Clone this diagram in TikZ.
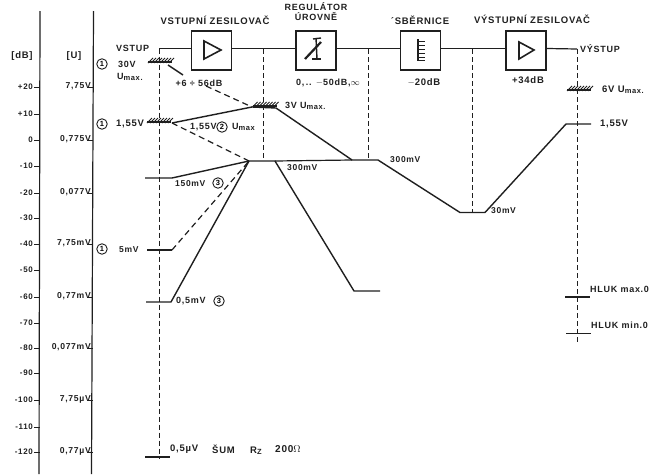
\documentclass[tikz,border=0pt]{standalone}
\usepackage{fontspec}
\setmainfont[LetterSpace=8]{Liberation Sans}
\newcommand{\fsA}{\fontsize{9.5}{10.5}\selectfont\bfseries}
\newcommand{\fsB}{\fontsize{9}{10}\selectfont\bfseries}
\newcommand{\fsC}{\fontsize{8.5}{9.5}\selectfont\bfseries}
\newcommand{\fsD}{\fontsize{8}{9}\selectfont\bfseries}
\newcommand{\sbs}[1]{\raisebox{-1pt}{\fontsize{7.5}{8}\selectfont\bfseries #1}}
\begin{document}
\begin{tikzpicture}[x=1pt,y=-1pt,
  lab/.style={font=\fsA,text=black!88,inner sep=0pt},
  labl/.style={lab,anchor=west},
  labr/.style={lab,anchor=east},
  axisln/.style={line width=1.2pt,black!88},
  tick/.style={line width=.9pt,black!88},
  block/.style={draw=black!88,line width=1.6pt,minimum width=40pt,minimum height=39pt,inner sep=0pt},
  wire/.style={line width=1.2pt,black!88},
  level/.style={line width=1.4pt,black!88},
  dline/.style={line width=1pt,black!88,dash pattern=on 5pt off 3pt},
  ddiag/.style={line width=1.2pt,black!88,dash pattern=on 6pt off 4pt},
  icon/.style={line width=1.4pt,black!88},
  num/.style={draw=black!88,circle,line width=.9pt,inner sep=0pt,minimum size=10.5pt,font=\fontsize{7.5}{8}\selectfont\bfseries},
  hatchbar/.style={line width=1.8pt,black!88}]
\useasboundingbox (0,0) rectangle (656,474);
\clip (0,0) rectangle (656,474);
% axes
\coordinate (a1t) at (40,11); \coordinate (a1b) at (39,474);
\coordinate (a2t) at (93.5,11); \coordinate (a2b) at (91.5,474);
\draw[axisln] (a1t) -- (a1b);
\draw[axisln] (a2t) -- (a2b);
\node[lab] (hdb) at (22,56) {[dB]};
\node[lab] (hu) at (74,56) {[U]};
% dB scale
\foreach \y/\t/\n in {87/+20/a,114/+10/b,140/0/c,166/-10/d,193/-20/e,218/-30/f,244/-40/g,270/-50/h,297/-60/i,323/-70/j,348/-80/k,373/-90/l,400/-100/m,427/-110/n,452/-120/o}{
  \draw[tick] (34,\y) -- (39.5,\y);
  \node[labr,font=\fsD] (db\n) at (33,\y) {\t};
}
% U scale
\foreach \y/\t/\n in {87/7{,}75V/a,140/0{,}775V/b,193/0{,}077V/c,244/7{,}75mV/d,297/0{,}77mV/e,348/0{,}077mV/f,400/7{,}75µV/g,452/0{,}77µV/h}{
  \draw[tick] (87,\y) -- (92.5,\y);
  \node[labr,font=\fontsize{8.6}{9.5}\selectfont\bfseries] (u\n) at (91,\y-1) {\t};
}
% block titles
\node[lab] (t1) at (215,20) {VSTUPNÍ ZESILOVAČ};
\node[lab,align=center,font=\fsB] (t2) at (316,12) {REGULÁTOR\\ÚROVNĚ};
\node[lab] (t3) at (420,20) {´SBĚRNICE};
\node[lab] (t4) at (532,19) {VÝSTUPNÍ ZESILOVAČ};
% blocks
\node[block] (b1) at (211.5,50.5) {};
\node[block,minimum width=40pt] (b2) at (316,50.5) {};
\node[block] (b3) at (420.5,50.5) {};
\node[block] (b4) at (526,50.5) {};
\coordinate (in) at (159,48.5);
\coordinate (out) at (577,49);
\draw[wire] (in) -- (b1.west |- in);
\draw[wire] (b1.east |- in) -- (b2.west |- in);
\draw[wire] (b2.east |- in) -- (b3.west |- in);
\draw[wire] (b3.east |- in) -- (b4.west |- in);
\draw[wire] (b4.east |- in) -- (out);
% icons
\draw[icon,line width=1.6pt,line join=miter] (204,41) -- (221,50) -- (204,59) -- cycle;
\draw[icon,line width=1.6pt,line join=miter] (519,42) -- (534,50) -- (519,59) -- cycle;
\draw[icon] (316,38) -- (317,59);
\draw[icon] (313,39) -- (321,38);
\draw[icon] (312,59) -- (321,59);
\draw[icon,line width=2.2pt] (305,59) -- (321,42);
\draw[icon] (418,39) -- (418,61);
\foreach \y in {41,45,49,53,57,60}{\draw[line width=1pt,black!88] (418,\y) -- (425,\y);}
% gain labels
\node[lab,font=\fsB] (g1) at (199,83) {+6 ÷ 56dB};
\node[lab,font=\fsB] (g2) at (328,83) {0,\,.. $-$50dB,$\infty$};
\node[lab] (g3) at (424,82) {$-$20dB};
\node[lab] (g4) at (528,80) {+34dB};
% dashed verticals
\coordinate (d1b) at (159,459);
\coordinate (d2t) at (263,49); \coordinate (d2b) at (263,160);
\coordinate (d3t) at (368,49); \coordinate (d3b) at (368,160);
\coordinate (d4t) at (472,49); \coordinate (d4b) at (472,212);
\coordinate (d5b) at (577,344);
\draw[dline] (in) -- (d1b);
\draw[dline] (d2t) -- (d2b);
\draw[dline] (d3t) -- (d3b);
\draw[dline] (d4t) -- (d4b);
\draw[dline] (out) -- (d5b);
% level nodes
\coordinate (v3a) at (252,107); \coordinate (v3b) at (276,108);
\coordinate (v155) at (172,123);
\coordinate (m1) at (249,161); \coordinate (m2) at (275,161);
\coordinate (s1) at (352,160); \coordinate (s2) at (378,160);
\coordinate (r1) at (460,212.5); \coordinate (r2) at (485,212.5);
\coordinate (o1) at (566,124); \coordinate (o2) at (591,124);
\coordinate (e1) at (354,291); \coordinate (e2) at (380,291);
% hatch marks
\foreach \xa/\y in {148/62,252.5/106,147/122,567/90}{
  \draw[hatchbar] (\xa,\y) -- ++(24,0);
  \foreach \k in {0,3,...,21}{\draw[line width=.9pt,black!88] (\xa+\k,\y+1) -- ++(5,-5);}
}
% level traces
\draw[level,line join=round] (v155) -- (v3a) -- (v3b) -- (s1) -- (s2) -- (r1) -- (r2) -- (o1) -- (o2);
\draw[level,line join=round] (m1) -- (m2) -- (e1) -- (e2);
\draw[wire] (m2) -- (s1);
\draw[level,line join=round] (145,178) -- (172,178) -- (m1);
\draw[level,line join=round] (146,302) -- (171,302) -- (m1);
\draw[level] (147,250) -- (172,250);
\draw[level] (168,65) -- (183,75);
\draw[ddiag] (206,86) -- (v3a);
\draw[ddiag] (v155) -- (m1);
\draw[ddiag] (172,250) -- (m1);
\draw[level] (145,457) -- (170,457);
\draw[level,line width=1.1pt] (565,297) -- (590,297);
\draw[level,line width=1.1pt] (566,333.5) -- (591,333.5);
% circled numbers
\node[num] (n1) at (102,64) {1};
\node[num] (n2) at (102,124) {1};
\node[num] (n3) at (102,249) {1};
% labels
\node[labl,font=\fsB] (l1) at (116,48) {VSTUP};
\node[labl,font=\fsB] (l2) at (118,64) {30V};
\node[labl,font=\fsB] (l3) at (117,77) {U\sbs{max.}};
\node[labl] (l4) at (116,124) {1,55V};
\node[labl,font=\fsB] (l5) at (285,106) {3V U\sbs{max.}};
\node[labl,font=\fsB] (l6) at (190,127) {1,55V};
\node[num] (n4) at (222,127) {2};
\node[labl,font=\fsB] (l7) at (232,127) {U\sbs{max}};
\node[labl,font=\fsC] (l8) at (287,168) {300mV};
\node[labl,font=\fsC] (l9) at (390,160) {300mV};
\node[labl,font=\fsC] (l10) at (175,184) {150mV};
\node[num] (n5) at (218,183) {3};
\node[labl,font=\fsC] (l11) at (119,250) {5mV};
\node[labl,font=\fsB] (l12) at (176,301) {0,5mV};
\node[num] (n6) at (219,301) {3};
\node[labl,font=\fsC] (l13) at (491,211) {30mV};
\node[labl,font=\fsB] (l14) at (580,49) {VÝSTUP};
\node[labl] (l15) at (602,90) {6V U\sbs{max.}};
\node[labl] (l16) at (600,124) {1,55V};
\node[labl,font=\fsB] (l17) at (590,289) {HLUK max.0};
\node[labl,font=\fsB] (l18) at (591,325) {HLUK min.0};
\node[labl] (l19) at (170,449) {0,5µV};
\node[labl] (l20) at (212,449) {ŠUM};
\node[labl] (l21) at (250,451) {R\sbs{Z}};
\node[lab,anchor=west,font=\fontsize{10}{11}\selectfont\bfseries] (l22) at (275,449) {200$\Omega$};
\end{tikzpicture}
\end{document}
